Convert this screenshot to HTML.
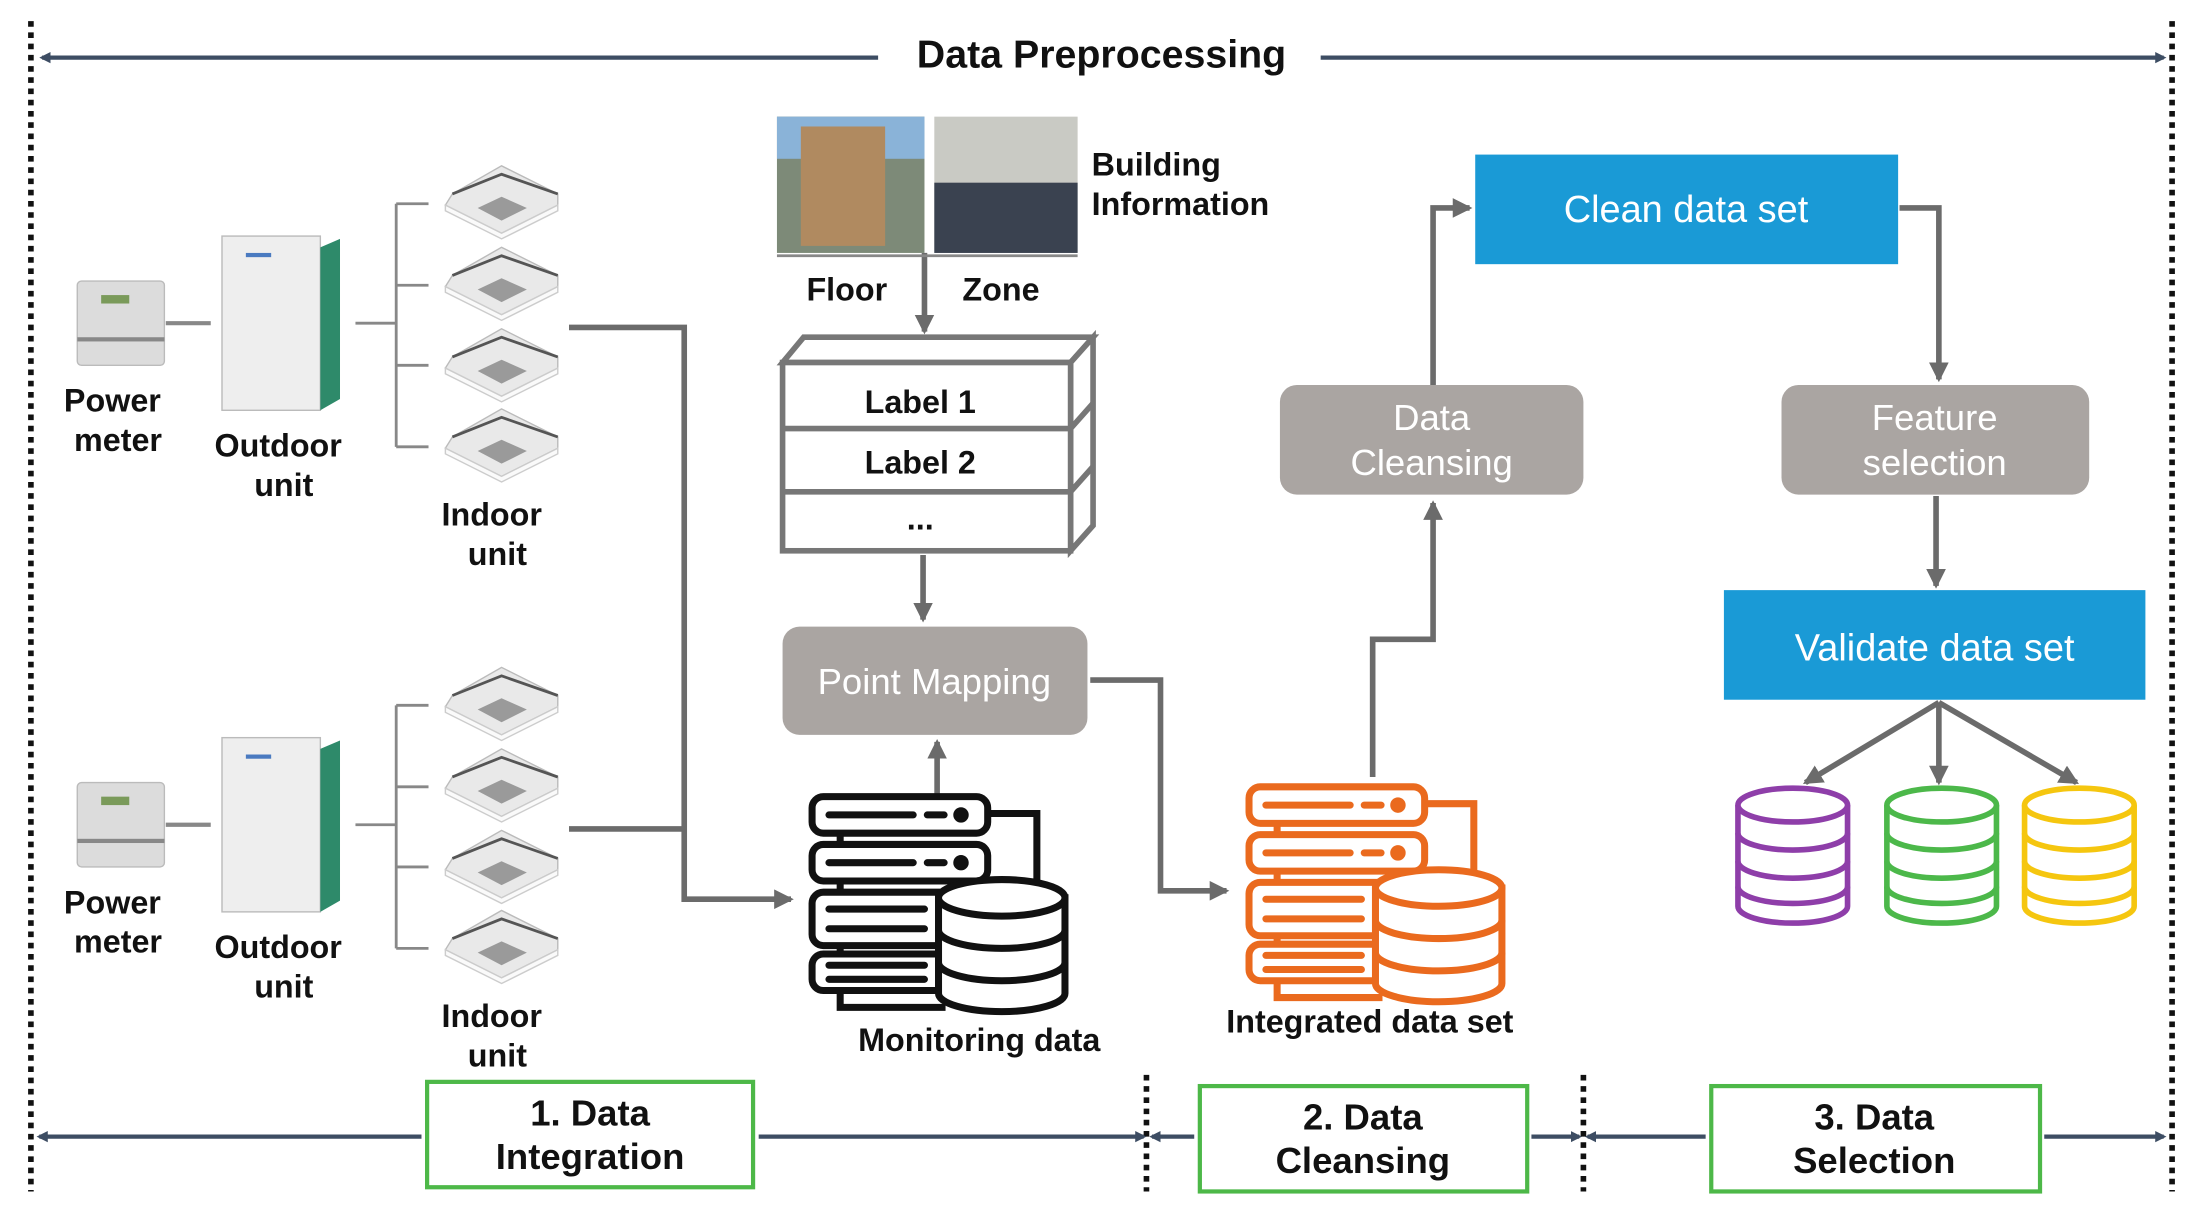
<!DOCTYPE html>
<html><head><meta charset="utf-8"><style>
html,body{margin:0;padding:0;background:#fff;}
svg{display:block;}
text{font-family:"Liberation Sans",sans-serif;}
</style></head><body>
<svg width="2203" height="1221" viewBox="0 0 1568 869" xmlns="http://www.w3.org/2000/svg">
<defs>
<marker id="ah" markerWidth="8" markerHeight="8" refX="6" refY="4" orient="auto" markerUnits="userSpaceOnUse"><path d="M0,0 L8,4 L0,8 Z" fill="#3d4d63"/></marker>
<marker id="ag" markerWidth="14" markerHeight="14" refX="12" refY="7" orient="auto" markerUnits="userSpaceOnUse"><path d="M0,0 L14,7 L0,14 Z" fill="#6b6b6b"/></marker>
<g id="srv">
  <path d="M20,135 V150 H95" fill="none" stroke-width="5"/>
  <path d="M125,12 H160 V60" fill="none" stroke-width="5"/>
  <rect x="0" y="0" width="125" height="26" rx="8" fill="#fff" stroke-width="5"/>
  <path d="M12,13 H72 M82,13 H94" stroke-width="5" stroke-linecap="round"/>
  <circle cx="106" cy="13" r="5"/>
  <rect x="0" y="34" width="125" height="26" rx="8" fill="#fff" stroke-width="5"/>
  <path d="M12,47 H72 M82,47 H94" stroke-width="5" stroke-linecap="round"/>
  <circle cx="106" cy="47" r="5"/>
  <path d="M20,26 V34 M20,60 V68 M20,105 V112" stroke-width="5"/>
  <rect x="0" y="68" width="125" height="38" rx="8" fill="#fff" stroke-width="5"/>
  <path d="M12,80 H80 M12,94 H80" stroke-width="5" stroke-linecap="round"/>
  <rect x="0" y="112" width="125" height="26" rx="8" fill="#fff" stroke-width="5"/>
  <path d="M12,120 H80 M12,130 H80" stroke-width="5" stroke-linecap="round"/>
  <path d="M90,72 V140 A45,13 0 0 0 180,140 V72 Z" fill="#fff" stroke-width="5"/>
  <ellipse cx="135" cy="72" rx="45" ry="13" fill="#fff" stroke-width="5"/>
  <path d="M90,95 A45,13 0 0 0 180,95 M90,118 A45,13 0 0 0 180,118" fill="none" stroke-width="5"/>
</g>
<g id="db">
  <path d="M0,12 V84 A39,12 0 0 0 78,84 V12" fill="#fff" stroke-width="4"/>
  <ellipse cx="39" cy="12" rx="39" ry="12" fill="#fff" stroke-width="4"/>
  <path d="M0,32 A39,12 0 0 0 78,32 M0,52 A39,12 0 0 0 78,52 M0,70 A39,12 0 0 0 78,70" fill="none" stroke-width="4"/>
</g>
<g id="iu">
  <path d="M10,22 L45,2 L85,22 L85,30 L45,50 L5,30 Z" fill="#e9e9e9" stroke="#bbb"/>
  <path d="M5,30 L45,50 L85,30 L85,34 L45,54 L5,34Z" fill="#fafafa" stroke="#ccc"/>
  <path d="M28,32 L45,24 L63,32 L45,41 Z" fill="#9a9a9a"/>
  <path d="M10,22 L45,8 L85,22" fill="none" stroke="#555" stroke-width="2"/>
</g>
<g id="dev">
  <rect x="55" y="200" width="62" height="60" rx="3" fill="#dcdcdc" stroke="#bbb"/>
  <rect x="72" y="210" width="20" height="6" fill="#7a9a5a"/>
  <rect x="55" y="240" width="62" height="3" fill="#888"/>
  <line x1="118" y1="230" x2="150" y2="230" stroke="#888" stroke-width="3"/>
  <rect x="158" y="168" width="70" height="124" fill="#eeeeee" stroke="#bbb"/>
  <path d="M228,176 L242,170 L242,284 L228,292 Z" fill="#2e8a6a"/>
  <rect x="175" y="180" width="18" height="3" fill="#4a7ac0"/>
  <path d="M253,230 H282 M282,145 V318 M282,145 H305 M282,203 H305 M282,260 H305 M282,318 H305" stroke="#888" stroke-width="2" fill="none"/>
  <use href="#iu" x="312" y="116"/>
  <use href="#iu" x="312" y="174"/>
  <use href="#iu" x="312" y="232"/>
  <use href="#iu" x="312" y="289"/>
  <g font-weight="bold" font-size="23" text-anchor="middle" fill="#111">
    <text x="80" y="293">Power</text><text x="84" y="321">meter</text>
    <text x="198" y="325">Outdoor</text><text x="202" y="353">unit</text>
    <text x="350" y="374">Indoor</text><text x="354" y="402">unit</text>
  </g>
</g>
</defs>

<g stroke="#111" stroke-width="4" stroke-dasharray="4,4">
<line x1="22" y1="15" x2="22" y2="848"/>
<line x1="1546" y1="15" x2="1546" y2="848"/>
<line x1="816" y1="765" x2="816" y2="848"/>
<line x1="1127" y1="765" x2="1127" y2="848"/>
</g>
<g stroke="#3d4d63" stroke-width="3">
<line x1="625" y1="41" x2="30" y2="41" marker-end="url(#ah)"/>
<line x1="940" y1="41" x2="1540" y2="41" marker-end="url(#ah)"/>
<line x1="300" y1="809" x2="28" y2="809" marker-end="url(#ah)"/>
<line x1="540" y1="809" x2="814" y2="809" marker-end="url(#ah)"/>
<line x1="850" y1="809" x2="820" y2="809" marker-end="url(#ah)"/>
<line x1="1090" y1="809" x2="1124" y2="809" marker-end="url(#ah)"/>
<line x1="1214" y1="809" x2="1130" y2="809" marker-end="url(#ah)"/>
<line x1="1455" y1="809" x2="1540" y2="809" marker-end="url(#ah)"/>
</g>
<text x="784" y="48" font-size="28" font-weight="bold" text-anchor="middle" fill="#111">Data Preprocessing</text>

<g fill="#fff" stroke="#4db848" stroke-width="3">
<rect x="304" y="770" width="232" height="75"/>
<rect x="854" y="773" width="233" height="75"/>
<rect x="1218" y="773" width="234" height="75"/>
</g>
<g font-size="26" font-weight="bold" text-anchor="middle" fill="#111">
<text x="420" y="801">1. Data</text><text x="420" y="832">Integration</text>
<text x="970" y="804">2. Data</text><text x="970" y="835">Cleansing</text>
<text x="1334" y="804">3. Data</text><text x="1334" y="835">Selection</text>
</g>

<use href="#dev"/>
<use href="#dev" y="357"/>

<g stroke="#6b6b6b" stroke-width="4" fill="none">
<path d="M405,233 H487 V640 H563" marker-end="url(#ag)"/>
<path d="M405,590 H487"/>
<path d="M658,180 V236" marker-end="url(#ag)"/>
<path d="M657,395 V441" marker-end="url(#ag)"/>
<path d="M667,565 V528" marker-end="url(#ag)"/>
<path d="M776,484 H826 V634 H873" marker-end="url(#ag)"/>
<path d="M977,553 V455 H1020 V358" marker-end="url(#ag)"/>
<path d="M1020,274 V148 H1046" marker-end="url(#ag)"/>
<path d="M1352,148 H1380 V270" marker-end="url(#ag)"/>
<path d="M1378,353 V417" marker-end="url(#ag)"/>
<path d="M1380,500 L1285,557" marker-end="url(#ag)"/>
<path d="M1380,500 V557" marker-end="url(#ag)"/>
<path d="M1380,500 L1478,557" marker-end="url(#ag)"/>
</g>

<rect x="553" y="83" width="105" height="97" fill="#7d8a78"/>
<rect x="553" y="83" width="105" height="30" fill="#8ab3d8"/>
<rect x="570" y="90" width="60" height="85" fill="#b08a60"/>
<rect x="665" y="83" width="102" height="97" fill="#c9cac4"/>
<rect x="665" y="130" width="102" height="50" fill="#3a4250"/>
<line x1="553" y1="182" x2="767" y2="182" stroke="#888" stroke-width="2"/>
<g font-size="23" font-weight="bold" fill="#111">
<text x="777" y="125">Building</text><text x="777" y="153">Information</text>
<text x="574" y="214">Floor</text><text x="685" y="214">Zone</text>
</g>

<g stroke="#777" stroke-width="4" fill="#fff">
<path d="M557,258 L572,240 L778,240 L762,258 Z"/>
<path d="M762,258 L778,240 L778,374 L762,392 Z"/>
<rect x="557" y="258" width="205" height="134"/>
<line x1="557" y1="305" x2="762" y2="305"/>
<line x1="557" y1="350" x2="762" y2="350"/>
<line x1="762" y1="305" x2="778" y2="287"/>
<line x1="762" y1="350" x2="778" y2="332"/>
</g>
<g font-size="23" font-weight="bold" text-anchor="middle" fill="#111">
<text x="655" y="294">Label 1</text><text x="655" y="337">Label 2</text><text x="655" y="377">...</text>
</g>

<g fill="#aaa5a2">
<rect x="557" y="446" width="217" height="77" rx="12"/>
<rect x="911" y="274" width="216" height="78" rx="12"/>
<rect x="1268" y="274" width="219" height="78" rx="12"/>
</g>
<g font-size="26" fill="#fff" text-anchor="middle">
<text x="665" y="494">Point Mapping</text>
<text x="1019" y="306">Data</text><text x="1019" y="338">Cleansing</text>
<text x="1377" y="306">Feature</text><text x="1377" y="338">selection</text>
</g>

<rect x="1050" y="110" width="301" height="78" fill="#1a9ad6"/>
<rect x="1227" y="420" width="300" height="78" fill="#1a9ad6"/>
<g font-size="27" fill="#fff" text-anchor="middle">
<text x="1200" y="158">Clean data set</text>
<text x="1377" y="470">Validate data set</text>
</g>

<use href="#srv" x="578" y="567" stroke="#111" fill="#111"/>
<use href="#srv" x="889" y="560" stroke="#ea6a1e" fill="#ea6a1e"/>
<g font-size="23" font-weight="bold" text-anchor="middle" fill="#111">
<text x="697" y="748">Monitoring data</text>
<text x="975" y="735">Integrated data set</text>
</g>

<use href="#db" x="1237" y="561" stroke="#8e3ea9"/>
<use href="#db" x="1343" y="561" stroke="#4cb84a"/>
<use href="#db" x="1441" y="561" stroke="#f5c60f"/>
</svg>
</body></html>
